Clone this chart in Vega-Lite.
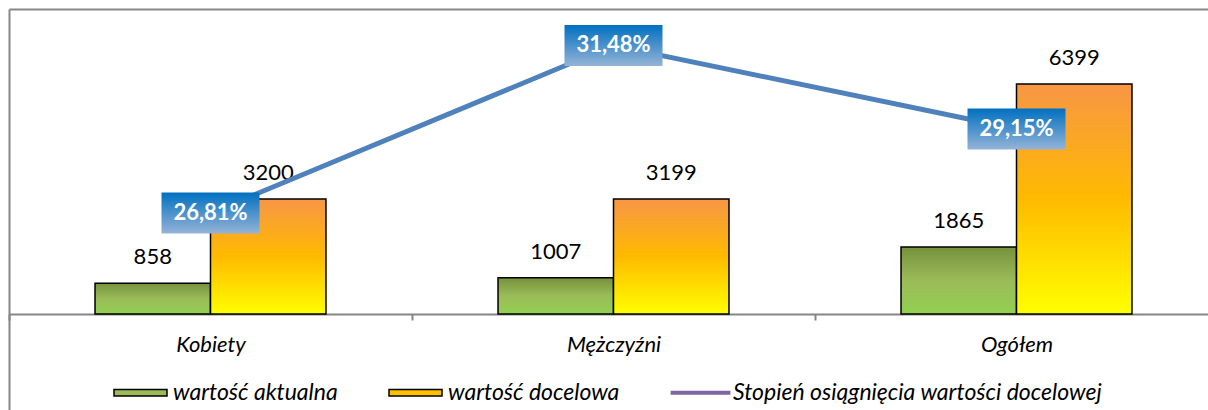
{
  "$schema": "https://vega.github.io/schema/vega-lite/v6.json",
  "width": 1199,
  "height": 401,
  "padding": {"left": 9, "top": 9, "right": 0, "bottom": 0},
  "autosize": {"type": "none"},
  "config": {
    "view": {"stroke": null},
    "font": "Lato",
    "locale": {"number": {"decimal": ",", "thousands": " ", "grouping": [3], "currency": ["", " zł"], "percent": "%"}}
  },
  "datasets": {
    "bars": [
      {"cat": "Kobiety", "series": "wartość aktualna", "value": 858},
      {"cat": "Kobiety", "series": "wartość docelowa", "value": 3200},
      {"cat": "Mężczyźni", "series": "wartość aktualna", "value": 1007},
      {"cat": "Mężczyźni", "series": "wartość docelowa", "value": 3199},
      {"cat": "Ogółem", "series": "wartość aktualna", "value": 1865},
      {"cat": "Ogółem", "series": "wartość docelowa", "value": 6399}
    ],
    "pct": [
      {"cat": "Kobiety", "pct": 0.2681},
      {"cat": "Mężczyźni", "pct": 0.3148},
      {"cat": "Ogółem", "pct": 0.2915}
    ],
    "leg": [
      {"s": "wartość aktualna"},
      {"s": "wartość docelowa"},
      {"s": "Stopień osiągnięcia wartości docelowej"}
    ]
  },
  "layer": [
    {
      "data": {"name": "bars"},
      "encoding": {
        "x": {
          "field": "cat", "type": "nominal", "sort": null,
          "scale": {"range": [0, 1209], "paddingInner": 0, "paddingOuter": 0},
          "axis": {
            "orient": "bottom", "offset": -96, "tickBand": "extent", "tickSize": 6,
            "tickColor": "#868686", "tickWidth": 2, "domainColor": "#868686", "domainWidth": 2,
            "labelFont": "Lato", "labelFontStyle": "italic", "labelFontSize": 22, "labelColor": "#000",
            "labelPadding": 14, "labelAngle": 0, "title": null, "grid": false
          }
        },
        "xOffset": {
          "field": "series", "type": "nominal", "sort": null,
          "scale": {"paddingInner": 0, "paddingOuter": 0.745}
        },
        "y": {
          "field": "value", "type": "quantitative",
          "scale": {"domain": [-2671, 8486], "nice": false, "zero": true},
          "axis": {"orient": "left", "domain": true, "domainColor": "#868686", "domainWidth": 2, "ticks": false, "labels": false, "grid": false, "title": null}
        }
      },
      "layer": [
        {
          "mark": {"type": "bar", "stroke": "#000", "strokeWidth": 1.5},
          "encoding": {
            "fill": {
              "condition": {
                "test": "datum.series === 'wartość aktualna'",
                "value": {"gradient": "linear", "x1": 0, "y1": 0, "x2": 0, "y2": 1,
                  "stops": [{"offset": 0, "color": "#76923C"}, {"offset": 0.5, "color": "#9BBB59"}, {"offset": 1, "color": "#92D050"}]}
              },
              "value": {"gradient": "linear", "x1": 0, "y1": 0, "x2": 0, "y2": 1,
                "stops": [{"offset": 0, "color": "#F79646"}, {"offset": 0.5, "color": "#FFBA00"}, {"offset": 1, "color": "#FFFF00"}]}
            }
          }
        },
        {
          "mark": {"type": "text", "dy": -26, "baseline": "middle", "fontSize": 22, "font": "Lato", "color": "#000"},
          "encoding": {"text": {"field": "value", "type": "quantitative", "format": "d"}}
        }
      ]
    },
    {
      "data": {"name": "pct"},
      "encoding": {
        "x": {
          "field": "cat", "type": "nominal", "sort": null,
          "axis": {"orient": "top", "labels": false, "ticks": false, "domainColor": "#868686", "domainWidth": 2, "title": null, "grid": false}
        },
        "y": {
          "field": "pct", "type": "quantitative",
          "scale": {"domain": [0.21318, 0.32497], "nice": false, "zero": false},
          "axis": null
        }
      },
      "layer": [
        {
          "mark": {"type": "line", "color": "#4F81BD", "strokeWidth": 5}
        },
        {
          "mark": {"type": "point", "shape": "M-1,-0.418H1V0.418H-1Z", "size": 9604, "filled": true, "opacity": 1, "strokeWidth": 0,
            "fill": {"gradient": "linear", "x1": 0, "y1": 0, "x2": 0, "y2": 1,
              "stops": [{"offset": 0, "color": "#0070C0"}, {"offset": 1, "color": "#95B3D7"}]}}
        },
        {
          "mark": {"type": "text", "baseline": "middle", "fontSize": 22, "fontWeight": "bold", "font": "Lato", "color": "#FFFFFF"},
          "encoding": {"text": {"field": "pct", "type": "quantitative", "format": ".2%"}}
        }
      ]
    },
    {
      "data": {"name": "leg"},
      "mark": {"type": "point", "opacity": 0, "filled": true},
      "encoding": {
        "color": {
          "field": "s", "type": "nominal", "sort": null,
          "scale": {"domain": ["wartość aktualna", "wartość docelowa", "Stopień osiągnięcia wartości docelowej"], "range": ["#9BBB59", "#FFC000", "#8064A2"]},
          "legend": {
            "orient": "none", "legendX": 104, "legendY": 356, "direction": "horizontal", "title": null,
            "symbolSize": 2809, "labelFont": "Lato", "labelFontStyle": "italic", "labelFontSize": 23, "labelColor": "#000",
            "labelOffset": 5, "labelLimit": 0, "columnPadding": 48, "padding": 0, "symbolOpacity": 1,
            "encode": {
              "symbols": {
                "update": {
                  "shape": {"signal": "datum.value === 'Stopień osiągnięcia wartości docelowej' ? 'M-1.1,-0.05H1.1V0.05H-1.1Z' : 'M-1,-0.125H1V0.125H-1Z'"},
                  "fill": {"signal": "datum.value === 'wartość aktualna' ? {gradient: 'linear', x1: 0, y1: 0, x2: 0, y2: 1, stops: [{offset: 0, color: '#76923C'}, {offset: 0.5, color: '#9BBB59'}, {offset: 1, color: '#92D050'}]} : datum.value === 'wartość docelowa' ? {gradient: 'linear', x1: 0, y1: 0, x2: 0, y2: 1, stops: [{offset: 0, color: '#F79646'}, {offset: 0.5, color: '#FFBA00'}, {offset: 1, color: '#FFFF00'}]} : '#8064A2'"},
                  "stroke": {"signal": "datum.value === 'Stopień osiągnięcia wartości docelowej' ? '#8064A2' : '#000000'"},
                  "strokeWidth": {"value": 1.5},
                  "opacity": {"value": 1}
                }
              }
            }
          }
        }
      }
    }
  ],
  "resolve": {"scale": {"y": "independent"}}
}
